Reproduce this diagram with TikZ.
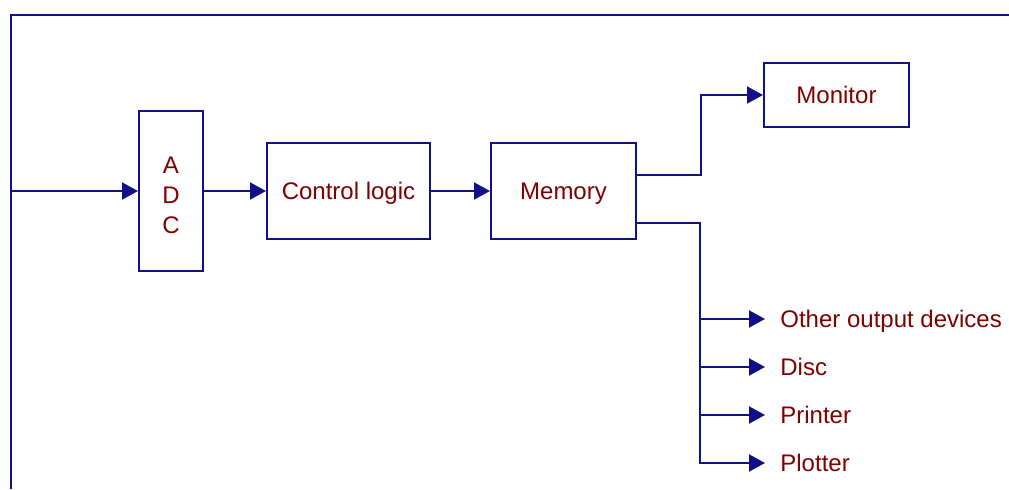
\documentclass[tikz,border=0pt]{standalone}
\usepackage{fontspec}
\setmainfont{Liberation Sans}
\usetikzlibrary{arrows.meta}
\definecolor{linec}{RGB}{16,16,136}
\definecolor{textc}{RGB}{128,0,0}
\tikzset{
  blk/.style={draw=linec, line width=1pt, fill=white, text=textc, font=\fontsize{12}{15}\selectfont, align=center, inner sep=0pt, text height=8.6pt, text depth=0pt},
  lbl/.style={text=textc, font=\fontsize{12}{15}\selectfont, anchor=west, inner xsep=7.5pt, inner ysep=0pt, text height=8.6pt, text depth=0pt},
  conn/.style={draw=linec, line width=1pt},
  arr/.style={conn, -{Triangle[length=8pt,width=8.5pt]}},
}
\begin{document}
\begin{tikzpicture}[x=0.5pt,y=-0.5pt]
\useasboundingbox (0,0) rectangle (1009,489);
% frame
\draw[conn] (11,489) -- (11,15) -- (1009,15);
\coordinate (in) at (11,191);
\node[blk, minimum width=32pt, minimum height=80pt, text height=42.6pt] (adc) at (171,191) {A\\[0pt]D\\[0pt]C};
\node[blk, minimum width=81.5pt, minimum height=48pt] (ctl) at (348.5,191) {Control logic};
\node[blk, minimum width=72.5pt, minimum height=48pt] (mem) at (563.5,191) {Memory};
\node[blk, minimum width=72.5pt, minimum height=32pt] (mon) at (836.5,95) {Monitor};
\node[lbl] (oth) at (765,319) {Other output devices};
\node[lbl] (dis) at (765,367) {Disc};
\node[lbl] (pri) at (765,415) {Printer};
\node[lbl] (plo) at (765,463) {Plotter};
\coordinate (bus) at (700,463);
\draw[arr] (in) -- (adc.west);
\draw[arr] (adc.east) -- (ctl.west);
\draw[arr] (ctl.east) -- (mem.west);
\draw[arr] ([yshift=8pt]mem.east) -- ++(64,0) |- (mon.west);
\draw[arr] ([yshift=-16pt]mem.east) -| (bus) -- (plo.west);
\draw[arr] (bus |- oth.west) -- (oth.west);
\draw[arr] (bus |- dis.west) -- (dis.west);
\draw[arr] (bus |- pri.west) -- (pri.west);
\end{tikzpicture}
\end{document}
